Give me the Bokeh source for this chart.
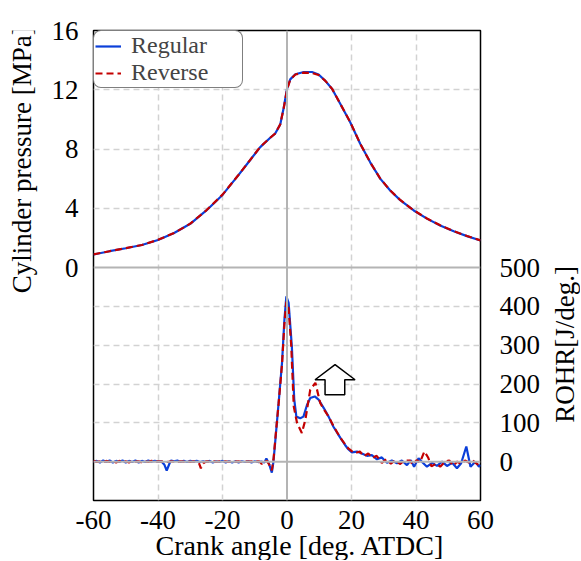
from math import pi
from bokeh.plotting import figure
from bokeh.layouts import row
from bokeh.models import (Range1d, LinearAxis, FixedTicker, Span, Grid, Legend,
                          LegendItem, Label, Title)
from bokeh.embed import file_html
from bokeh.resources import INLINE

# ---------------- data ----------------
CRANK_P = [-60, -55, -50, -45, -40, -35, -30, -25, -20, -15,
           -11.4, -8.3, -5.2, -3.7, -2.1, -1, 0, 1, 2.6, 5.2,
           7.75, 9.8, 11.9, 14, 16.5, 19.6, 22.7, 25.8, 28.9, 32,
           35.1, 39.3, 43.4, 47.5, 51.7, 55.8, 60]
P_REGULAR = [0.88, 1.10, 1.30, 1.52, 1.86, 2.33, 2.95, 3.85, 4.90, 6.25,
             7.26, 8.13, 8.76, 9.03, 9.65, 10.80, 12.05, 12.70, 13.05, 13.20,
             13.20, 13.03, 12.60, 12.05, 11.05, 9.80, 8.35, 7.10, 6.00, 5.20,
             4.55, 3.85, 3.30, 2.84, 2.45, 2.12, 1.82]
P_REVERSE = [0.89, 1.10, 1.31, 1.52, 1.87, 2.33, 2.96, 3.86, 4.92, 6.26,
             7.27, 8.14, 8.76, 9.04, 9.66, 10.78, 12.00, 12.68, 13.03, 13.16,
             13.13, 13.00, 12.60, 12.06, 11.06, 9.82, 8.36, 7.10, 6.01, 5.20,
             4.56, 3.86, 3.31, 2.85, 2.45, 2.13, 1.83]

CRANK_R_REG = [-60, -59, -58, -57, -56, -55, -54, -53, -52, -51,
               -50, -49, -48, -47, -46, -45, -44, -43, -42, -41,
               -40, -39, -38, -37.3, -36.5, -36, -35, -34, -33, -32,
               -31, -30, -29, -28, -27, -26, -25, -24, -23, -22,
               -21, -20, -19, -18, -17, -16, -15, -14, -13, -12,
               -11, -10, -9, -8, -7, -6.4, -5.6, -4.7, -4.2, -3.6,
               -2.6, -1.55, -0.8, -0.2, 0.5, 1.5, 2.25, 2.9, 4.1, 5.1,
               6.2, 7.2, 8.6, 9.8, 11.4, 12.9, 14.4, 16.5, 18.0, 19.0,
               20.1, 21.7, 23.2, 24.8, 26.3, 27.9, 29.4, 31.0, 32.5, 34.1,
               35.6, 37.2, 38.4, 39.4, 40.8, 41.8, 43.4, 45.0, 46.5, 48.1,
               49.6, 51.2, 52.7, 54.0, 55.6, 56.9, 58.4, 59.5, 60.0]
ROHR_REGULAR = [0, 2, -2, 3, -1, 3, -2, 2, -1, 3,
                -2, 2, -1, 3, -2, 2, -1, 3, 0, 2,
                0, 1, -8, -23, -6, 3, 1, 3, -1, 2,
                -1, 2, 0, 2, -1, 1, -1, 2, -2, 1,
                -1, 2, -2, 1, -2, 1, -2, 1, -1, 1,
                -2, 1, -1, 0, -2, 8, -5, -28, 0, 56,
                151, 254, 366, 426, 409, 297, 160, 116, 112, 116,
                146, 164, 168, 160, 138, 116, 90, 62, 43, 32,
                24, 26, 21, 15, 17, 6, 11, -3, 3, -4,
                3, -9, 4, -13, 9, 0, -13, -3, -11, 0,
                -11, -3, -17, -4, 39, -13, 0, -13, -8]

CRANK_R_REV = [-60, -59, -58, -57, -56, -55, -54, -53, -52, -51,
               -50, -49, -48, -47, -46, -45, -44, -43, -42, -41,
               -40, -39, -38, -37, -36, -35, -34, -33, -32, -31,
               -30, -29, -28, -27.3, -26.7, -26, -25, -24, -23, -22,
               -21, -20, -19, -18, -17, -16, -15, -14, -13, -12,
               -11, -10, -9, -8.5, -7.8, -7, -6.2, -5.5, -4.7, -4.2,
               -3.6, -2.6, -1.55, -0.8, -0.2, 0.5, 1.3, 2.1, 3.1, 4.6,
               5.7, 7.2, 8.8, 10.3, 11.4, 12.9, 14.4, 16.5, 18.0, 19.0,
               20.1, 21.0, 22.6, 23.8, 25.2, 26.5, 27.8, 29.4, 30.8, 32.2,
               33.6, 35.0, 36.5, 38.1, 39.0, 40.2, 41.2, 42.6, 43.8, 44.8,
               46.2, 47.5, 49.0, 50.3, 51.5, 52.8, 54.0, 55.2, 56.4, 57.6,
               58.8, 60.0]
ROHR_REVERSE = [2, -1, 1, -2, 2, -1, 1, -2, 2, 0,
                1, -2, 2, 0, 1, -2, 1, -1, 2, -1,
                1, 0, 1, -1, 1, 0, -1, 1, 0, 2,
                -1, 1, 0, -4, -17, -4, 1, 0, 2, -1,
                1, 0, 1, -1, 1, 0, 1, -1, 1, 0,
                1, -1, 1, 0, -6, 0, 2, -8, -22, 5,
                60, 150, 250, 355, 412, 395, 300, 142, 100, 74,
                108, 185, 203, 151, 135, 116, 92, 62, 45, 34,
                27, 22, 26, 14, 21, 10, 15, -3, 6, -5,
                4, -6, 3, 3, -8, 4, -2, 26, 10, -12,
                -5, -13, 0, 3, -10, 0, -6, 3, -2, 3,
                -5, -12]

X_TICKS = [-60, -40, -20, 0, 20, 40, 60]
X_TICK_LABELS = ["-60", "-40", "-20", "0", "20", "40", "60"]
X_GRID = [-40, -20, 20, 40]
P_TICKS = [0, 4, 8, 12, 16]
P_GRID = [4, 8, 12]
R_TICKS = [0, 100, 200, 300, 400, 500]
R_GRID = [100, 200, 300, 400]

ARROW_X = [11.8, 11.8, 8.7, 14.9, 21.1, 17.9, 17.9]
ARROW_Y = [172, 211, 211, 250, 211, 211, 172]

X_TITLE = "Crank angle [deg. ATDC]"
P_TITLE = "Cylinder pressure [MPa]"
R_TITLE = "ROHR[J/deg.]"

# ---------------- layout / style ----------------
FONT = "Liberation Serif"
TICK_SIZE = "27px"
TITLE_SIZE = "28px"
SIDE_TITLE_SIZE = "27px"
BLUE = "#0b3fd9"
RED = "#c40000"
GRID_COLOR = "#d2d2d2"
ZERO_COLOR = "#b4b4b4"

H = 560
LEFT_W, RIGHT_W = 40, 32
MAIN_W = 508

X_MIN, X_MAX = -60, 60
P_MIN, P_MAX = 0, 16
R_MIN, R_MAX = -100, 500
TOP_FRAC = 237 / 470  # share of frame height used by the pressure panel
p_lo = P_MAX - (P_MAX - P_MIN) / TOP_FRAC
r_hi = R_MIN + (R_MAX - R_MIN) / (1 - TOP_FRAC)

p = figure(width=MAIN_W, height=H, output_backend="svg", toolbar_location=None,
           x_range=Range1d(X_MIN, X_MAX), y_range=Range1d(p_lo, P_MAX),
           min_border_left=53, min_border_right=68, min_border_top=30,
           min_border_bottom=60)
p.extra_y_ranges = {"rohr": Range1d(R_MIN, r_hi)}
p.background_fill_color = "white"
p.border_fill_color = "white"
p.outline_line_color = "black"
p.outline_line_width = 1.5

# grids
p.xgrid.ticker = FixedTicker(ticks=X_GRID)
p.ygrid.ticker = FixedTicker(ticks=P_GRID)
for g in (p.xgrid[0], p.ygrid[0]):
    g.grid_line_color = GRID_COLOR
    g.grid_line_width = 1.5
    g.grid_line_dash = "6 4"
rgrid = Grid(dimension=1, ticker=FixedTicker(ticks=R_GRID), y_range_name="rohr",
             grid_line_color=GRID_COLOR, grid_line_width=1.5, grid_line_dash="6 4")
p.add_layout(rgrid)

p.add_layout(Span(location=P_MIN, dimension="width", line_color=ZERO_COLOR, line_width=2))
p.add_layout(Span(location=0, dimension="width", y_range_name="rohr",
                  line_color=ZERO_COLOR, line_width=2))
p.add_layout(Span(location=0, dimension="height", line_color=ZERO_COLOR, line_width=2))

# axes
xa = p.xaxis[0]
xa.ticker = FixedTicker(ticks=X_TICKS)
xa.major_label_overrides = {t: s for t, s in zip(X_TICKS, X_TICK_LABELS)}
xa.major_label_standoff = 4

ya = p.yaxis[0]
ya.ticker = FixedTicker(ticks=P_TICKS)
ya.major_label_standoff = 9

ra = LinearAxis(y_range_name="rohr", ticker=FixedTicker(ticks=R_TICKS))
ra.major_label_standoff = 13
p.add_layout(ra, "right")

for ax in (xa, ya, ra):
    ax.axis_line_color = None
    ax.major_tick_line_color = None
    ax.minor_tick_line_color = None
    ax.major_label_text_font = FONT
    ax.major_label_text_font_size = TICK_SIZE
    ax.major_label_text_color = "black"

p.add_layout(Title(text=X_TITLE, align="left", offset=62, standoff=-6,
                   vertical_align="middle", text_font=FONT, text_font_size=TITLE_SIZE,
                   text_font_style="normal", text_color="black"), "below")

# data
r_reg_p = p.line(CRANK_P, P_REGULAR, line_color=BLUE, line_width=2.2)
r_rev_p = p.line(CRANK_P, P_REVERSE, line_color=RED, line_width=2.2, line_dash="7 4")
p.line(CRANK_R_REG, ROHR_REGULAR, y_range_name="rohr", line_color=BLUE, line_width=2.2)
p.line(CRANK_R_REV, ROHR_REVERSE, y_range_name="rohr", line_color=RED, line_width=2.2,
       line_dash="7 4")

p.patch(ARROW_X, ARROW_Y, y_range_name="rohr", fill_color="white",
        line_color="black", line_width=1.5)

legend = Legend(items=[LegendItem(label="Regular", renderers=[r_reg_p]),
                       LegendItem(label="Reverse", renderers=[r_rev_p])],
                location="top_left", margin=0, padding=1, spacing=0,
                glyph_width=26, glyph_height=20, label_standoff=10,
                label_width=110,
                label_text_font=FONT, label_text_font_size="24px",
                border_line_color="black", border_line_width=1.5,
                background_fill_color="white", background_fill_alpha=1.0)
if hasattr(legend, "border_radius"):
    legend.border_radius = 8
p.add_layout(legend, "center")


def label_figure(w, text, cx, cy):
    """A narrow figure that only holds one rotated axis title."""
    f = figure(width=w, height=H, output_backend="svg", toolbar_location=None,
               title_location=None,
               x_range=Range1d(0, w), y_range=Range1d(0, H),
               min_border_left=0, min_border_right=0, min_border_top=0,
               min_border_bottom=0,
               x_axis_location=None, y_axis_location=None)
    f.outline_line_color = None
    f.grid.visible = False
    f.background_fill_color = "white"
    f.border_fill_color = "white"
    f.add_layout(Label(x=cx, y=H - cy, text=text, angle=pi / 2,
                       text_align="center", text_baseline="middle",
                       text_font=FONT, text_font_size=SIDE_TITLE_SIZE,
                       text_color="black"))
    return f


left = label_figure(LEFT_W, P_TITLE, 21, 154)
right = label_figure(RIGHT_W, R_TITLE, 16, 374)

layout = row(left, p, right)
open("out.html", "w").write(file_html(layout, INLINE))
